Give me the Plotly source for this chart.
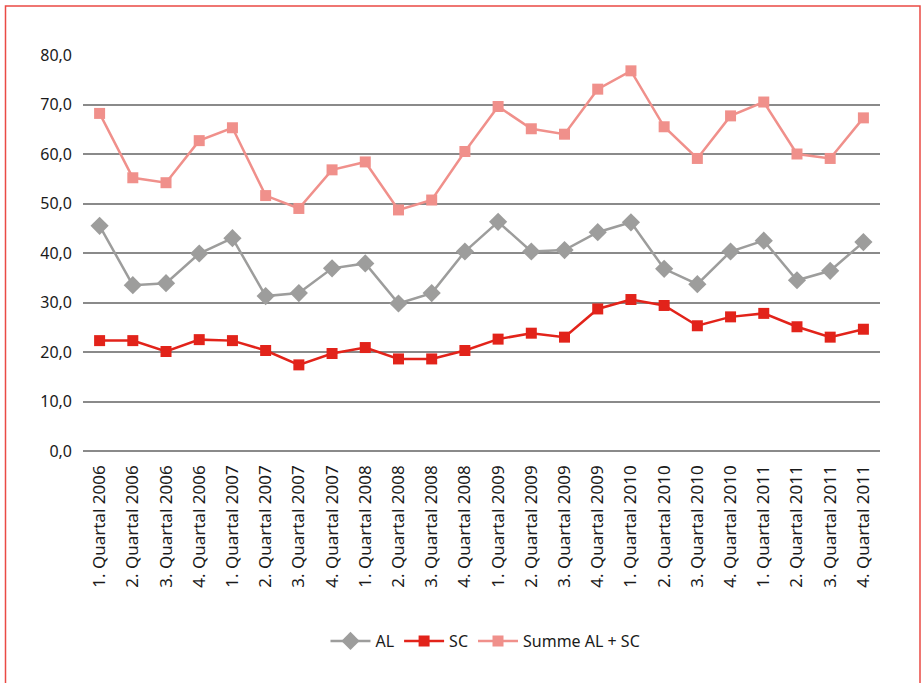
import plotly.graph_objects as go

categories = [f"{q}. Quartal {y}" for y in range(2006, 2012) for q in range(1, 5)]
al = [45.5, 33.5, 33.9, 39.9, 43.0, 31.3, 31.9, 36.9, 37.9, 29.8, 31.9, 40.3,
      46.3, 40.3, 40.6, 44.2, 46.2, 36.8, 33.7, 40.3, 42.5, 34.5, 36.4, 42.2]
sc = [22.3, 22.3, 20.1, 22.5, 22.3, 20.3, 17.4, 19.7, 20.9, 18.6, 18.6, 20.3,
      22.6, 23.8, 23.0, 28.7, 30.6, 29.4, 25.3, 27.1, 27.8, 25.1, 23.0, 24.6]
summe = [68.2, 55.2, 54.2, 62.7, 65.3, 51.6, 49.0, 56.8, 58.4, 48.7, 50.7, 60.5,
         69.6, 65.1, 64.0, 73.1, 76.8, 65.5, 59.1, 67.7, 70.5, 60.0, 59.1, 67.3]
y_ticks = [0, 10, 20, 30, 40, 50, 60, 70, 80]

fig = go.Figure()
fig.add_trace(go.Scatter(x=categories, y=al, name="AL", mode="lines+markers",
                         line=dict(color="#9D9D9C", width=2.5),
                         marker=dict(symbol="diamond", size=14, color="#9D9D9C")))
fig.add_trace(go.Scatter(x=categories, y=sc, name="SC", mode="lines+markers",
                         line=dict(color="#E2231A", width=2.5),
                         marker=dict(symbol="square", size=11, color="#E2231A")))
fig.add_trace(go.Scatter(x=categories, y=summe, name="Summe AL + SC", mode="lines+markers",
                         line=dict(color="#F0908B", width=2.5),
                         marker=dict(symbol="square", size=11, color="#F0908B")))

L, R, T, B = 83, 42, 55, 232
W, H = 922, 683
pw, ph = W - L - R, H - T - B

fig.update_layout(
    width=W, height=H,
    margin=dict(l=L, r=R, t=T, b=B),
    paper_bgcolor="white", plot_bgcolor="white",
    font=dict(family="Noto Sans", color="#1a1a1a"),
    separators=",.",
    showlegend=True,
    legend=dict(orientation="h", x=0.505, xanchor="center", y=(451 - 641) / ph, yanchor="middle",
                font=dict(size=16), itemwidth=40),
    xaxis=dict(type="category", range=[-0.5, 23.5], showgrid=False, showline=False,
               ticks="", tickangle=-90, tickfont=dict(size=17), ticklabelstandoff=10),
    yaxis=dict(range=[0, 80], tickvals=y_ticks, tickformat=".1f", showgrid=True,
               gridcolor="#8a8a8a", gridwidth=1.5, zeroline=True, zerolinecolor="#8a8a8a",
               zerolinewidth=1.5, showline=False, ticks="", tickfont=dict(size=16),
               ticklabelstandoff=10),
    shapes=[dict(type="rect", xref="paper", yref="paper",
                 x0=(5.5 - L) / pw, x1=(920 - L) / pw,
                 y0=(451 - 700) / ph, y1=(451 - 6) / ph,
                 line=dict(color="#EA4A44", width=1.5), fillcolor="rgba(0,0,0,0)", layer="below")],
)

fig.write_html("out.html", config={"displayModeBar": False},
               post_script="document.body.style.margin='0';document.body.style.overflow='hidden';")
